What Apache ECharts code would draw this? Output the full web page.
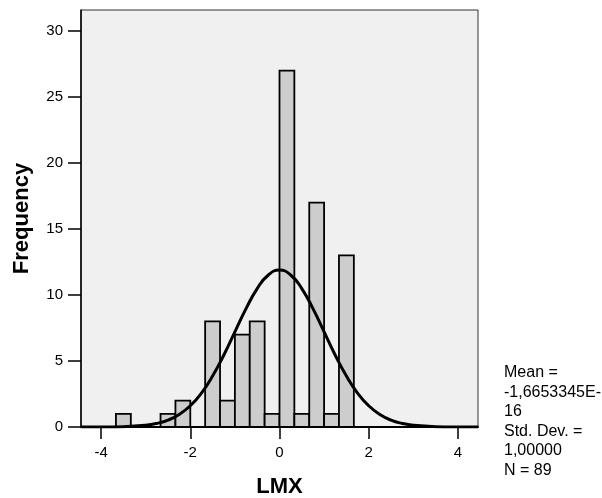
<!DOCTYPE html>
<html>
<head>
<meta charset="utf-8">
<script src="https://cdn.jsdelivr.net/npm/echarts@6/dist/echarts.min.js"></script>
<style>html,body{margin:0;padding:0;background:#fff;}#c{width:602px;height:498px;}</style>
</head>
<body>
<div id="c"></div>
<script>
// Histogram bins (left edge, right edge) and frequencies
var binEdges = [-3.667, -3.333, -3.0, -2.667, -2.333, -2.0, -1.667, -1.333, -1.0, -0.667, -0.333, 0, 0.333, 0.667, 1.0, 1.333, 1.667];
var counts = [1, 0, 0, 1, 2, 0, 8, 2, 7, 8, 1, 27, 1, 17, 1, 13];
// Normal curve (x, frequency)
var curveX = [-4.45, -4.0, -3.5, -3.0, -2.75, -2.5, -2.25, -2.0, -1.75, -1.5, -1.25, -1.0, -0.75, -0.5, -0.25, 0, 0.25, 0.5, 0.75, 1.0, 1.25, 1.5, 1.75, 2.0, 2.25, 2.5, 2.75, 3.0, 3.5, 4.0, 4.45];
var curveY = [0.0, 0.004, 0.026, 0.13, 0.27, 0.52, 0.95, 1.61, 2.57, 3.86, 5.44, 7.21, 8.97, 10.49, 11.52, 11.89, 11.52, 10.49, 8.97, 7.21, 5.44, 3.86, 2.57, 1.61, 0.95, 0.52, 0.27, 0.13, 0.026, 0.004, 0.0];
var xTicks = [-4, -2, 0, 2, 4];
var yTicks = [0, 5, 10, 15, 20, 25, 30];
var statsText = ['Mean =', '-1,6653345E-', '16', 'Std. Dev. =', '1,00000', 'N = 89'];

var binData = counts.map(function (c, i) { return [binEdges[i], binEdges[i + 1], c]; });
var curveData = curveX.map(function (x, i) { return [x, curveY[i]]; });

var chart = echarts.init(document.getElementById('c'), null, { renderer: 'canvas' });
var font = 'Liberation Sans, Arial, Helvetica, sans-serif';
chart.setOption({
  animation: false,
  backgroundColor: '#ffffff',
  grid: { left: 81, right: 124, top: 10, bottom: 71, outerBoundsMode: 'none', containLabel: false, show: true, backgroundColor: '#f0f0f0', borderColor: '#333333', borderWidth: 1 },
  xAxis: {
    type: 'value', min: -4.45, max: 4.45,
    name: 'LMX', nameLocation: 'middle', nameGap: 49,
    nameTextStyle: { fontFamily: font, fontWeight: 'bold', fontSize: 22, color: '#000' },
    axisLine: { show: true, onZero: false, lineStyle: { color: '#000', width: 2 } },
    axisTick: { show: true, length: 12, lineStyle: { color: '#000', width: 1.5 }, customValues: xTicks },
    axisLabel: { fontFamily: font, fontSize: 15, color: '#000', margin: 18, customValues: xTicks },
    splitLine: { show: false }
  },
  yAxis: {
    type: 'value', min: 0, max: 31.6,
    name: 'Frequency', nameLocation: 'middle', nameGap: 48,
    nameTextStyle: { fontFamily: font, fontWeight: 'bold', fontSize: 22, color: '#000' },
    axisLine: { show: true, onZero: false, lineStyle: { color: '#000', width: 1.5 } },
    axisTick: { show: true, length: 13, lineStyle: { color: '#000', width: 1.5 }, customValues: yTicks },
    axisLabel: { fontFamily: font, fontSize: 15, color: '#000', margin: 18, customValues: yTicks },
    splitLine: { show: false }
  },
  series: [
    {
      type: 'custom',
      data: binData,
      encode: { x: [0, 1], y: 2 },
      renderItem: function (params, api) {
        var p0 = api.coord([api.value(0), api.value(2)]);
        var p1 = api.coord([api.value(1), 0]);
        return {
          type: 'rect',
          shape: { x: p0[0], y: p0[1], width: p1[0] - p0[0], height: p1[1] - p0[1] },
          style: { fill: '#cdcdcd', stroke: '#000', lineWidth: 1.8 }
        };
      },
      z: 2
    },
    {
      type: 'line',
      data: curveData,
      smooth: true,
      showSymbol: false,
      lineStyle: { color: '#000', width: 3 },
      z: 3
    }
  ],
  graphic: statsText.map(function (t, i) {
    return {
      type: 'text', left: 504, top: 365 + i * 19.5,
      style: { text: t, fontFamily: font, fontSize: 16, fill: '#000' }
    };
  })
});
</script>
</body>
</html>
